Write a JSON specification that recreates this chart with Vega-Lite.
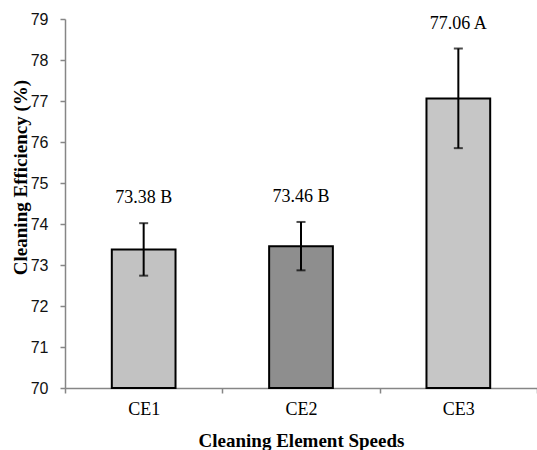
{
  "$schema": "https://vega.github.io/schema/vega-lite/v6.json",
  "autosize": {"type": "none"},
  "padding": {"left": 65, "top": 19, "right": 0, "bottom": 62},
  "width": 472,
  "height": 369,
  "background": "white",
  "config": {"view": {"stroke": null}, "font": "Times New Roman, Liberation Serif, serif"},
  "data": {"values": [
    {"speed": "CE1", "efficiency": 73.38, "lo": 72.74, "hi": 74.02, "label": "73.38 B"},
    {"speed": "CE2", "efficiency": 73.46, "lo": 72.87, "hi": 74.05, "label": "73.46 B"},
    {"speed": "CE3", "efficiency": 77.06, "lo": 75.85, "hi": 78.28, "label": "77.06  A"}
  ]},
  "encoding": {
    "x": {
      "field": "speed", "type": "nominal",
      "scale": {"paddingInner": 0, "paddingOuter": 0},
      "axis": {
        "title": "Cleaning Element Speeds", "labelAngle": 0,
        "labelFont": "Times New Roman, Liberation Serif, serif", "labelFontSize": 18, "labelColor": "black", "labelPadding": 7,
        "titleFont": "Times New Roman, Liberation Serif, serif", "titleFontSize": 19, "titleFontWeight": "bold", "titleColor": "black",
        "titleY": 52, "titleBaseline": "middle",
        "domainColor": "#868686", "domainWidth": 1.5, "tickColor": "#868686", "tickWidth": 1.5, "tickSize": 5, "tickBand": "extent"
      }
    }
  },
  "layer": [
    {
      "mark": {"type": "bar", "width": {"band": 0.405}, "stroke": "black", "strokeWidth": 2},
      "encoding": {
        "y": {
          "field": "efficiency", "type": "quantitative",
          "scale": {"domain": [70, 79], "zero": false, "nice": false},
          "axis": {
            "title": "Cleaning Efficiency (%)", "values": [70, 71, 72, 73, 74, 75, 76, 77, 78, 79], "grid": false,
            "labelFont": "Liberation Sans, Arial, sans-serif", "labelFontSize": 16, "labelColor": "#111", "labelPadding": 12,
            "titleFont": "Times New Roman, Liberation Serif, serif", "titleFontSize": 19, "titleFontWeight": "bold", "titleColor": "black",
            "titleX": -45, "titleY": 158, "titleAngle": -90, "titleAlign": "center", "titleBaseline": "middle",
            "domainColor": "#868686", "domainWidth": 1.5, "tickColor": "#868686", "tickWidth": 1.5, "tickSize": 5
          }
        },
        "y2": {"datum": 70},
        "fill": {
          "field": "speed", "type": "nominal", "legend": null,
          "scale": {"domain": ["CE1", "CE2", "CE3"], "range": ["#c2c2c2", "#8e8e8e", "#c6c6c6"]}
        }
      }
    },
    {
      "mark": {"type": "rule", "color": "black", "strokeWidth": 2},
      "encoding": {"y": {"field": "lo", "type": "quantitative"}, "y2": {"field": "hi"}}
    },
    {
      "mark": {"type": "tick", "color": "black", "thickness": 2, "size": 9, "orient": "horizontal"},
      "encoding": {"y": {"field": "lo", "type": "quantitative"}}
    },
    {
      "mark": {"type": "tick", "color": "black", "thickness": 2, "size": 9, "orient": "horizontal"},
      "encoding": {"y": {"field": "hi", "type": "quantitative"}}
    },
    {
      "mark": {"type": "text", "font": "Times New Roman, Liberation Serif, serif", "fontSize": 18, "color": "black", "baseline": "middle", "dy": -25},
      "encoding": {"y": {"field": "hi", "type": "quantitative"}, "text": {"field": "label"}}
    }
  ]
}
